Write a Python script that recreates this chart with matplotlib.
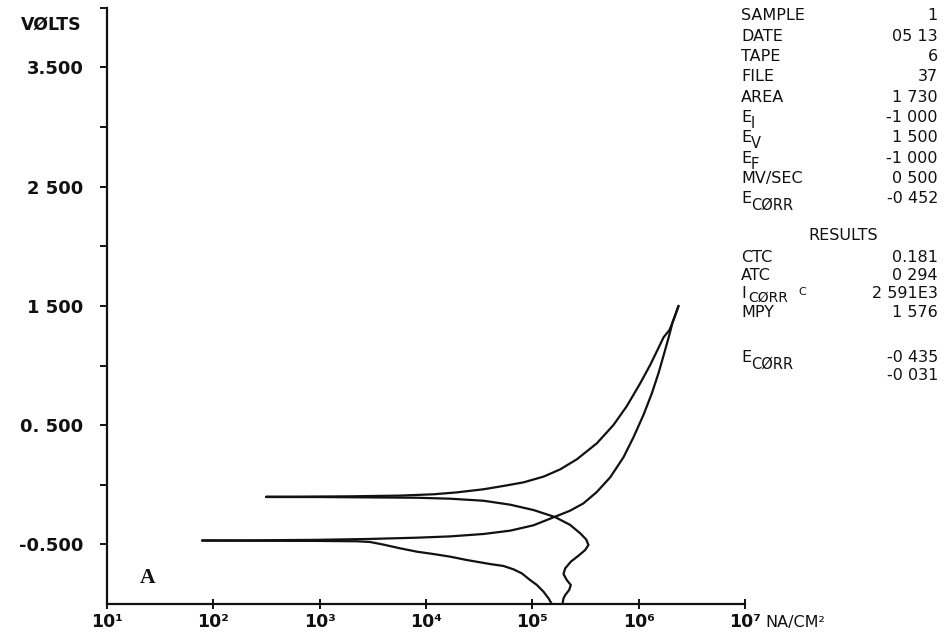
import matplotlib
matplotlib.use("Agg")
import matplotlib.pyplot as plt
import numpy as np
from matplotlib.ticker import FixedLocator, NullLocator

# ---------------- data (log10 of current in NA/CM^2, potential in volts) ----------------
# forward scan, cathodic branch: from E_I at the bottom up to the first E_CORR
fwd_cath_logi = [5.183, 5.152, 5.105, 5.042, 4.979, 4.901, 4.822, 4.728, 4.603, 4.383,
                 4.227, 4.070, 3.913, 3.756, 3.600, 3.474, 3.349, 2.972, 2.345, 1.894]
fwd_cath_volts = [-1.000, -0.952, -0.897, -0.840, -0.799, -0.743, -0.709, -0.681, -0.665, -0.631,
                  -0.603, -0.581, -0.561, -0.533, -0.502, -0.480, -0.474, -0.471, -0.470, -0.469]
# forward scan, anodic branch: from the first E_CORR up to E_V
fwd_anod_logi = [1.894, 2.345, 2.972, 3.443, 3.913, 4.227, 4.540, 4.791, 5.011, 5.214,
                 5.356, 5.481, 5.606, 5.732, 5.857, 5.951, 6.045, 6.124, 6.186, 6.240,
                 6.284, 6.321, 6.375]
fwd_anod_volts = [-0.466, -0.466, -0.462, -0.455, -0.444, -0.433, -0.413, -0.385, -0.340, -0.268,
                  -0.217, -0.156, -0.061, 0.062, 0.230, 0.398, 0.585, 0.767, 0.934, 1.102,
                  1.242, 1.368, 1.500]
# reverse scan, anodic branch: from E_V down to the second E_CORR
rev_anod_logi = [6.375, 6.334, 6.290, 6.234, 6.177, 6.108, 6.014, 5.889, 5.763, 5.606,
                 5.418, 5.262, 5.105, 4.917, 4.729, 4.540, 4.290, 4.070, 3.756, 3.286,
                 2.816, 2.496]
rev_anod_volts = [1.500, 1.396, 1.298, 1.236, 1.130, 1.004, 0.850, 0.660, 0.501, 0.347,
                  0.213, 0.129, 0.068, 0.020, -0.010, -0.038, -0.064, -0.080, -0.091, -0.097,
                  -0.100, -0.100]
# reverse scan, cathodic branch: from the second E_CORR down to E_F
rev_cath_logi = [2.496, 2.972, 3.443, 3.913, 4.227, 4.540, 4.791, 5.011, 5.214, 5.356,
                 5.450, 5.506, 5.528, 5.497, 5.434, 5.362, 5.309, 5.293, 5.324, 5.362,
                 5.346, 5.309, 5.293, 5.283]
rev_cath_volts = [-0.103, -0.103, -0.106, -0.109, -0.117, -0.134, -0.167, -0.212, -0.271, -0.337,
                  -0.407, -0.458, -0.505, -0.547, -0.595, -0.645, -0.701, -0.749, -0.799, -0.841,
                  -0.883, -0.925, -0.953, -1.000]

y_major = [-0.5, 0.5, 1.5, 2.5, 3.5]
y_major_labels = ["-0.500", "0. 500", "1 500", "2 500", "3.500"]
y_minor = [0.0, 1.0, 2.0, 3.0, 4.0]
x_decades = [1, 2, 3, 4, 5, 6, 7]
x_labels = ["10\u00b9", "10\u00b2", "10\u00b3", "10\u2074", "10\u2075", "10\u2076", "10\u2077"]

panel_rows = [("SAMPLE", "", "1"), ("DATE", "", "05 13"), ("TAPE", "", "6"), ("FILE", "", "37"),
              ("AREA", "", "1 730"), ("E", "I", "-1 000"), ("E", "V", "1 500"),
              ("E", "F", "-1 000"), ("MV/SEC", "", "0 500"), ("E", "C\u00d8RR", "-0 452")]
results_rows = [("CTC", "", "0.181"), ("ATC", "", "0 294"), ("I", "C\u00d8RR", "2 591E3"),
                ("MPY", "", "1 576")]
ecorr_values = ["-0 435", "-0 031"]

# ---------------- figure ----------------
W, H = 945, 637
fig = plt.figure(figsize=(W / 100, H / 100), dpi=100)
fig.patch.set_facecolor("white")
ax = fig.add_axes([107 / W, 1 - 604 / H, (745 - 107) / W, (604 - 7.75) / H])

ink = "#111111"
lw = 1.6
for li, v in [(fwd_cath_logi, fwd_cath_volts), (fwd_anod_logi, fwd_anod_volts),
              (rev_anod_logi, rev_anod_volts), (rev_cath_logi, rev_cath_volts)]:
    ax.plot(10 ** np.array(li), v, color=ink, lw=lw, solid_capstyle="round",
            solid_joinstyle="round")

ax.set_xscale("log")
ax.set_xlim(10 ** 1, 10 ** 7)
ax.set_ylim(-1.0, 4.0)

for s in ["top", "right"]:
    ax.spines[s].set_visible(False)
for s in ["left", "bottom"]:
    ax.spines[s].set_linewidth(1.6)
    ax.spines[s].set_color(ink)

ax.yaxis.set_major_locator(FixedLocator(y_major))
ax.yaxis.set_minor_locator(FixedLocator(y_minor))
ax.set_yticklabels(y_major_labels)
ax.xaxis.set_major_locator(FixedLocator([10.0 ** d for d in x_decades]))
ax.xaxis.set_minor_locator(NullLocator())
ax.set_xticklabels(x_labels)

ax.tick_params(axis="y", which="both", direction="out", length=5, width=1.4, color=ink,
               pad=12, labelsize=13, labelcolor=ink)
ax.tick_params(axis="x", which="both", direction="inout", length=7, width=1.4, color=ink,
               pad=3, labelsize=12.5, labelcolor=ink)
for t in ax.get_yticklabels():
    t.set_fontweight("bold")
for t in ax.get_xticklabels():
    t.set_fontweight("bold")


def px(x, y):
    return x / W, 1 - y / H


fig.text(*px(82, 25), "V\u00d8LTS", ha="right", va="center", fontsize=12.5, fontweight="bold",
         color=ink)
fig.text(*px(765, 622), "NA/CM\u00b2", ha="left", va="center", fontsize=11.5, color=ink)
fig.text(*px(148, 578), "A", ha="center", va="center", fontsize=15.5, fontweight="bold",
         family="Liberation Serif", color=ink)

fs = 11.5
sfs = 10.5
x_lab, x_val = 741, 938
row_y0, row_dy = 16, 20.3
for i, (lab, sub, val) in enumerate(panel_rows):
    y = row_y0 + i * row_dy
    fig.text(*px(x_lab, y), lab, ha="left", va="center", fontsize=fs, color=ink)
    if sub:
        fig.text(*px(x_lab + 10, y + 6), sub, ha="left", va="center", fontsize=sfs, color=ink)
    fig.text(*px(x_val, y), val, ha="right", va="center", fontsize=fs, color=ink)

fig.text(*px(843, 236), "RESULTS", ha="center", va="center", fontsize=fs, color=ink)
res_y0, res_dy = 257, 18.5
for i, (lab, sub, val) in enumerate(results_rows):
    y = res_y0 + i * res_dy
    fig.text(*px(x_lab, y), lab, ha="left", va="center", fontsize=fs, color=ink)
    if sub:
        fig.text(*px(x_lab + 7, y + 4), sub, ha="left", va="center", fontsize=sfs - 0.5,
                 color=ink)
        fig.text(*px(x_lab + 57, y - 2), "C", ha="left", va="center", fontsize=sfs - 2.5,
                 color=ink)
    fig.text(*px(x_val, y), val, ha="right", va="center", fontsize=fs, color=ink)

ey = 358
fig.text(*px(x_lab, ey), "E", ha="left", va="center", fontsize=fs, color=ink)
fig.text(*px(x_lab + 10, ey + 6), "C\u00d8RR", ha="left", va="center", fontsize=sfs, color=ink)
fig.text(*px(x_val, ey), ecorr_values[0], ha="right", va="center", fontsize=fs, color=ink)
fig.text(*px(x_val, ey + 17), ecorr_values[1], ha="right", va="center", fontsize=fs, color=ink)

fig.savefig("out.png", dpi=100, facecolor="white")
